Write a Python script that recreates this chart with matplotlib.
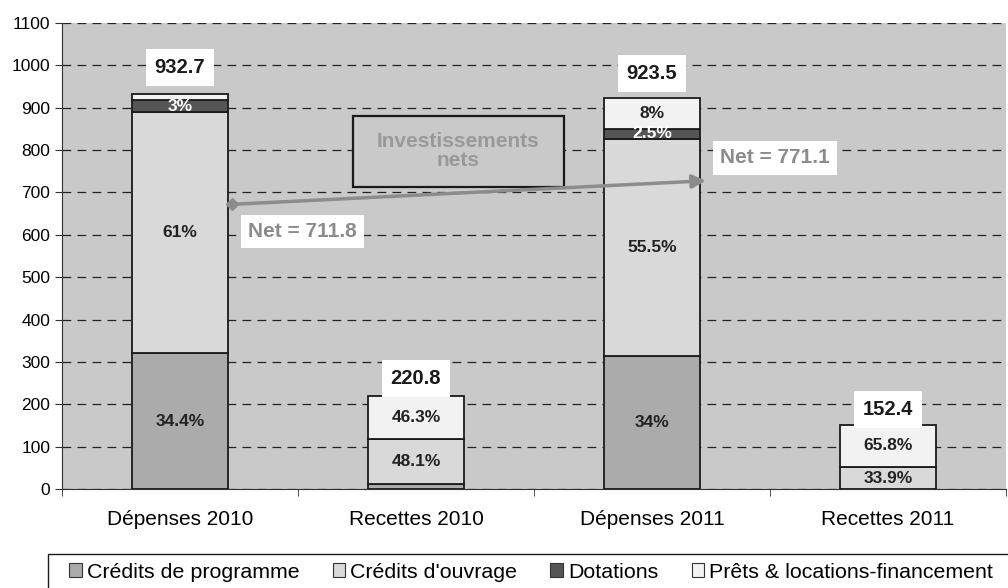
import numpy as np
import matplotlib
matplotlib.use('Agg')
import matplotlib.pyplot as plt
from matplotlib.patches import Patch, Rectangle

plt.rcParams['font.family'] = ['Liberation Sans', 'DejaVu Sans']

# Data (millions)
categories = ['Dépenses 2010', 'Recettes 2010', 'Dépenses 2011', 'Recettes 2011']
series_names = ['Crédits de programme', "Crédits d'ouvrage", 'Dotations', 'Prêts & locations-financement']
programme = [320.8, 12.4, 314.0, 0.4]
ouvrage = [569.0, 106.2, 512.5, 51.7]
dotations = [28.0, 0.0, 23.1, 0.0]
prets = [14.9, 102.2, 73.9, 100.3]
totals = [932.7, 220.8, 923.5, 152.4]

# percentage labels per segment (None = no label)
pct_programme = ['34.4%', None, '34%', None]
pct_ouvrage = ['61%', '48.1%', '55.5%', '33.9%']
pct_dotations = ['3%', None, '2.5%', None]
pct_prets = [None, '46.3%', '8%', '65.8%']

net_labels = ['Net = 711.8', 'Net = 771.1']
arrow_start = (0.22, 672)
arrow_end = (2.24, 728)

colors = ['#ababab', '#d9d9d9', '#555555', '#f2f2f2']
bg = '#c9c9c9'

fig = plt.figure(figsize=(10.08, 5.88), dpi=100)
ax = fig.add_axes([0.0615, 0.168, 0.9365, 0.793])
ax.set_facecolor(bg)

x = np.arange(len(categories))
width = 0.41
bottom = np.zeros(len(categories))
all_series = [programme, ouvrage, dotations, prets]
all_pcts = [pct_programme, pct_ouvrage, pct_dotations, pct_prets]
for vals, col, pcts in zip(all_series, colors, all_pcts):
    vals = np.array(vals)
    ax.bar(x, vals, width, bottom=bottom, color=col, edgecolor='#1a1a1a',
           linewidth=1.3, zorder=3)
    for i, p in enumerate(pcts):
        if p is None:
            continue
        tc = 'white' if col == '#555555' else '#222222'
        ax.text(x[i], bottom[i] + vals[i] / 2, p, ha='center', va='center',
                fontsize=12.5, fontweight='bold', color=tc, zorder=5)
    bottom += vals

# totals
label_off = [63, 40, 57, 36]
for i, t in enumerate(totals):
    ax.text(x[i], t + label_off[i], f'{t:.1f}', ha='center', va='center',
            fontsize=14.5, fontweight='bold', color='#1a1a1a', zorder=6,
            bbox=dict(boxstyle='square,pad=0.45', fc='white', ec='none'))

# Net arrow
ax.annotate('', xy=arrow_end, xytext=arrow_start,
            arrowprops=dict(arrowstyle='-|>', color='#8c8c8c', lw=2.5,
                            mutation_scale=20), zorder=6)
ax.plot([arrow_start[0]], [arrow_start[1]], marker='D', color='#8c8c8c',
        markersize=6, zorder=7)
ax.text(0.52, 608, net_labels[0], ha='center', va='center', fontsize=15,
        fontweight='bold', color='#8c8c8c', zorder=6,
        bbox=dict(boxstyle='square,pad=0.35', fc='white', ec='none'))
ax.text(2.52, 782, net_labels[1], ha='center', va='center', fontsize=15,
        fontweight='bold', color='#8c8c8c', zorder=6,
        bbox=dict(boxstyle='square,pad=0.35', fc='white', ec='none'))

# "Investissements nets" box
ax.add_patch(Rectangle((0.733, 714), 0.894, 167, facecolor=bg,
                       edgecolor='#1a1a1a', linewidth=1.6, zorder=5))
ax.text(1.18, 798, 'Investissements\nnets', ha='center', va='center',
        fontsize=15, fontweight='bold', color='#999999', zorder=6,
        linespacing=1.05)

# axes formatting
ax.set_xlim(-0.5, 3.5)
ax.set_ylim(0, 1100)
ax.set_yticks(np.arange(0, 1101, 100))
ax.yaxis.grid(True, linestyle=(0, (7, 5)), color='#222222', linewidth=0.9, zorder=1)
ax.set_axisbelow(True)
ax.set_xticks(x)
ax.set_xticklabels(categories, fontsize=15)
ax.tick_params(axis='x', length=0, pad=15)
ax.set_xticks(np.arange(-0.5, 3.6, 1), minor=True)
ax.tick_params(axis='x', which='minor', length=5, direction='out', color='#333333')
ax.tick_params(axis='y', labelsize=12.5, length=5, direction='out', color='#333333')
for s in ['top', 'right']:
    ax.spines[s].set_visible(False)
ax.spines['left'].set_color('#333333')
ax.spines['bottom'].set_color('#333333')

# legend, with a separate frame like the original (runs off the bottom/right)
fig.patches.append(Rectangle((0.0476, -0.05), 1.0, 0.1078, transform=fig.transFigure,
                             facecolor='white', edgecolor='#1a1a1a', linewidth=1.0,
                             zorder=0))
handles = [Patch(facecolor=c, edgecolor='#333333', linewidth=0.8) for c in colors]
leg = fig.legend(handles, series_names, loc='center left', ncol=4,
                 bbox_to_anchor=(0.0685, 0.027), fontsize=15.4, frameon=False,
                 handlelength=0.6, handleheight=0.6, handletextpad=0.23,
                 columnspacing=1.55, borderpad=0, borderaxespad=0)

fig.savefig('out.png', dpi=100, facecolor='white')
